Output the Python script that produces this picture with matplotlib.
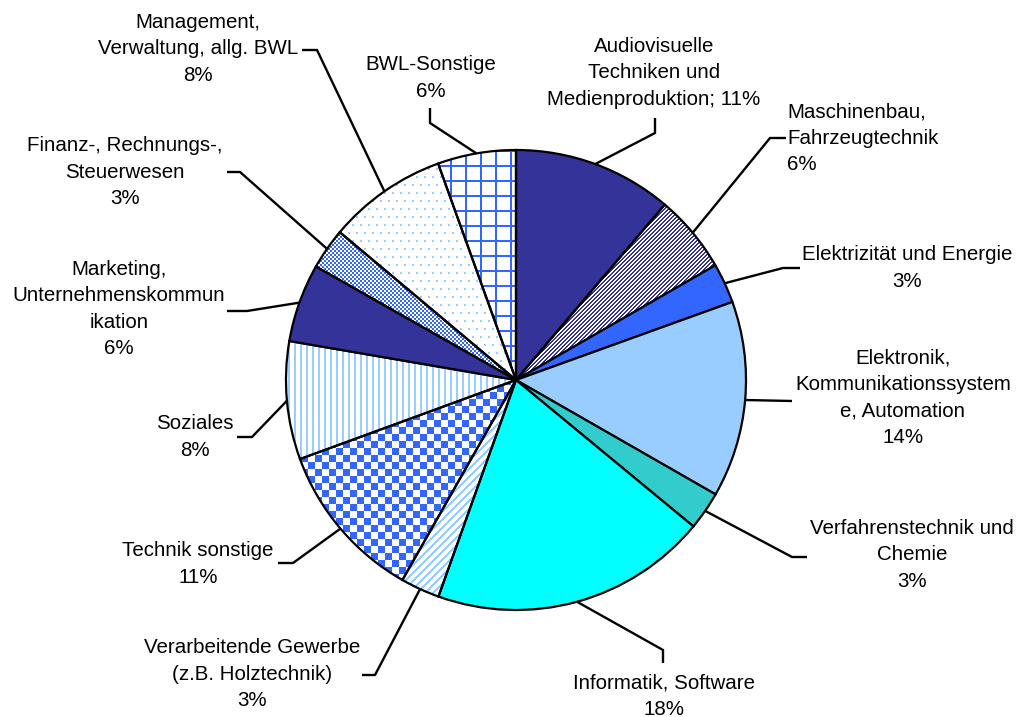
import numpy as np
import matplotlib
matplotlib.use('Agg')
import matplotlib.pyplot as plt
from matplotlib.colors import to_rgb

plt.rcParams['font.family'] = ['Liberation Sans', 'DejaVu Sans']

# shares of the 13 fields, clockwise from 12 o'clock
fields = ["Audiovisuelle\nTechniken und\nMedienproduktion; 11%",
          "Maschinenbau,\nFahrzeugtechnik\n6%",
          "Elektrizität und Energie\n3%",
          "Elektronik,\nKommunikationssystem\ne, Automation\n14%",
          "Verfahrenstechnik und\nChemie\n3%",
          "Informatik, Software\n18%",
          "Verarbeitende Gewerbe\n(z.B. Holztechnik)\n3%",
          "Technik sonstige\n11%",
          "Soziales\n8%",
          "Marketing,\nUnternehmenskommun\nikation\n6%",
          "Finanz-, Rechnungs-,\nSteuerwesen\n3%",
          "Management,\nVerwaltung, allg. BWL\n8%",
          "BWL-Sonstige\n6%"]
shares = [11.2, 5.5, 2.8, 13.8, 2.7, 19.5, 2.75, 11.2, 8.3, 5.5, 2.9, 8.4, 5.5]

# fill: solid colour, or a pattern name (drawn as a clipped bitmap)
fills = ['#333399', 'diag_navy', '#3366FF', '#99CCFF', '#33CCCC', '#00FFFF',
         'diag_light', 'checker', 'vstripes', '#333399', 'fine_checker',
         'dots', 'grid']

# label layout in screen pixels: text anchor, alignment, leader elbows
label_pos = [(654, 73, 'center'), (787, 138, 'left'), (907, 268, 'center'),
             (903, 398, 'center'), (912, 555, 'center'), (664, 696, 'center'),
             (252, 674, 'center'), (198, 564, 'center'), (195, 437, 'center'),
             (119, 309, 'center'), (125, 172, 'center'), (198, 49, 'center'),
             (431, 78, 'center')]
leaders = [[(655, 133), (655, 118)], [(770, 138), (786, 138)],
           [(783, 268), (800, 268)], [(792, 401)],
           [(792, 557), (807, 557)], [(663, 650), (663, 663)],
           [(375, 675), (362, 675)], [(293, 563), (278, 563)],
           [(252, 437), (237, 437)], [(247, 311), (227, 311)],
           [(240, 172), (227, 172)], [(317, 50), (302, 50)],
           [(430, 123), (430, 108)]]

W, H = 1016, 717
cx, cy, r = 516, H - 380, 230

fig = plt.figure(figsize=(W / 100, H / 100), dpi=100)
ax = fig.add_axes([0, 0, 1, 1])

face = [f if f.startswith('#') else 'none' for f in fills]
wedges, _ = ax.pie(shares, colors=face, startangle=90, counterclock=False,
                   center=(cx, cy), radius=r,
                   wedgeprops=dict(edgecolor='black', linewidth=1.6))

# pixel patterns (screen coordinates, y down)
yy, xx = np.mgrid[0:H, 0:W]
patterns = {
    'diag_navy': (((xx + yy) % 4) < 2, '#333399'),
    'diag_light': (((xx + yy) % 8) < 3, '#99CCFF'),
    'checker': (((xx // 7 + yy // 7) % 2) == 0, '#3366FF'),
    'vstripes': ((xx % 6) < 2, '#99CCFF'),
    'fine_checker': (((xx // 2 + yy // 2) % 2) == 0, '#3366FF'),
    'dots': ((((xx % 8) < 2) & ((yy % 16) < 2)) |
             ((((xx + 4) % 8) < 2) & (((yy + 8) % 16) < 2)), '#99CCFF'),
    'grid': (((xx % 15) < 2) | ((yy % 15) < 2), '#3366FF'),
}
white = np.ones(3)
for w, f in zip(wedges, fills):
    if f.startswith('#'):
        continue
    mask, col = patterns[f]
    img = np.where(mask[..., None], np.array(to_rgb(col)), white)
    im = ax.imshow(img, extent=(0, W, 0, H), origin='upper',
                   interpolation='nearest', zorder=0.5)
    im.set_clip_path(w)

# leader lines and labels
for w, txt, (tx, ty, ha), pts in zip(wedges, fields, label_pos, leaders):
    mid = np.deg2rad((w.theta1 + w.theta2) / 2)
    xs = [cx + r * np.cos(mid)] + [p[0] for p in pts]
    ys = [cy + r * np.sin(mid)] + [H - p[1] for p in pts]
    ax.plot(xs, ys, color='black', lw=1.7, solid_capstyle='butt')
    ax.text(tx, H - ty, txt, ha=ha, va='center', multialignment=ha,
            fontsize=14.8, linespacing=1.5)

ax.set_xlim(0, W)
ax.set_ylim(0, H)
ax.axis('off')

fig.savefig('out.png', dpi=100)
